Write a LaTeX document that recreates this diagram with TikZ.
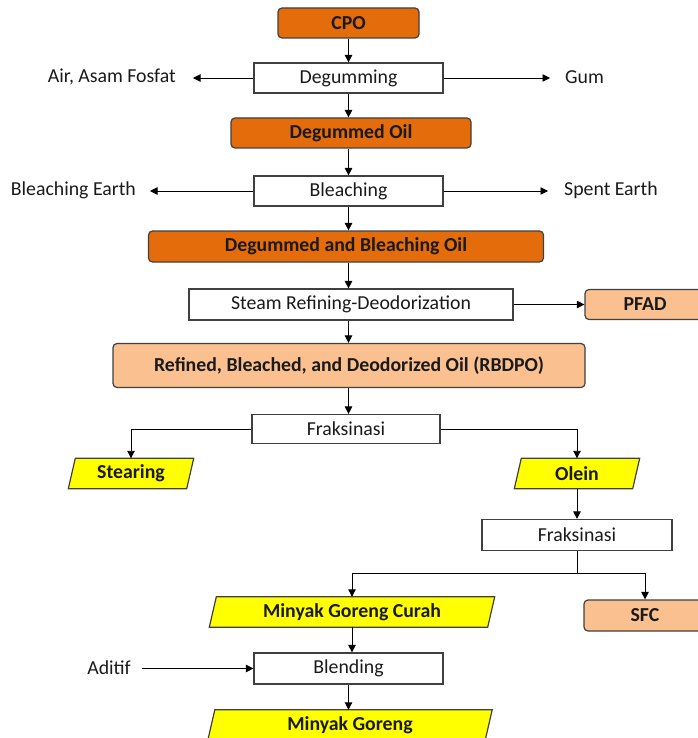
\documentclass[tikz,border=0pt]{standalone}
\usepackage{fontspec}
\setmainfont{Carlito}
\usetikzlibrary{arrows.meta,calc,backgrounds}
\definecolor{dorange}{HTML}{E46C0A}
\definecolor{lorange}{HTML}{FAC090}
\definecolor{yel}{HTML}{FFFF00}
\definecolor{bord}{HTML}{404040}
\definecolor{txt}{HTML}{1A1A1A}
\begin{document}
\begin{tikzpicture}[x=1pt,y=-1pt, font=\fontsize{19.8}{22}\selectfont, text=txt,
 box/.style={draw=bord, line width=1.2pt, minimum height=30pt, inner sep=0pt},
 proc/.style={box, fill=white},
 dark/.style={box, fill=dorange, rounded corners=4pt, font=\fontsize{19.8}{22}\selectfont\bfseries},
 light/.style={box, fill=lorange, rounded corners=4pt, font=\fontsize{19.8}{22}\selectfont\bfseries},
 para/.style={minimum height=30pt, inner sep=0pt, font=\fontsize{19.8}{22}\selectfont\bfseries},
 parashape/.style={draw=bord, line width=1.2pt, fill=yel},
 lbl/.style={inner sep=0pt},
 arr/.style={-{Triangle[length=7.5pt,width=7.5pt]}, line width=0.9pt, draw=black},
 ln/.style={line width=0.9pt, draw=black}
]
\useasboundingbox (0,0) rectangle (697,738);

\node[dark, minimum width=141pt] (cpo) at (348.5,23) {CPO};
\node[proc, minimum width=189pt] (deg) at (348.5,78) {Degumming};
\node[dark, minimum width=240pt] (dgo) at (351,133) {Degummed Oil};
\node[proc, minimum width=189pt] (ble) at (348.5,191) {Bleaching};
\node[dark, minimum width=395pt, minimum height=31pt] (dbo) at (346,246.5) {Degummed and Bleaching Oil};
\node[proc, minimum width=324pt, minimum height=31pt] (srd) at (351,304.5) {Steam Refining-Deodorization};
\node[light, minimum width=120pt] (pfad) at (645,304.5) {PFAD};
\node[light, minimum width=472pt, minimum height=44pt] (rbd) at (349,365.5) {Refined, Bleached, and Deodorized Oil (RBDPO)};
\node[proc, minimum width=188pt, minimum height=29pt] (fr1) at (346,429) {Fraksinasi};
\node[para, minimum width=118pt] (ste) at (131,473.5) {Stearing};
\node[para, minimum width=118pt] (ole) at (577,473.5) {Olein};
\node[proc, minimum width=190pt, minimum height=31pt] (fr2) at (577,535) {Fraksinasi};
\node[para, minimum width=278pt] (mgc) at (352,612) {Minyak Goreng Curah};
\node[light, minimum width=122pt, minimum height=31pt] (sfc) at (645,615.5) {SFC};
\node[proc, minimum width=189pt, minimum height=31pt] (bln) at (348.5,668.5) {Blending};
\node[para, minimum width=277pt] (mg) at (350,725) {Minyak Goreng};

\node[lbl, anchor=east] (air) at (176,77) {Air, Asam Fosfat};
\node[lbl, anchor=west] (gum) at (565,77) {Gum};
\node[lbl, anchor=east] (be) at (136,190) {Bleaching Earth};
\node[lbl, anchor=west] (se) at (564,190) {Spent Earth};
\node[lbl, anchor=east] (adi) at (131,668) {Aditif};

\begin{pgfonlayer}{background}
\foreach \n in {ste,ole,mgc,mg}
  \draw[parashape] ($(\n.south west)+(-3.5,0)$) -- ($(\n.north west)+(3.5,0)$) -- ($(\n.north east)+(3.5,0)$) -- ($(\n.south east)+(-3.5,0)$) -- cycle;
\end{pgfonlayer}

\draw[arr] (cpo.south) -- (cpo.south |- deg.north);
\draw[arr] (deg.south) -- (deg.south |- dgo.north);
\draw[arr] (deg.south |- dgo.south) -- (deg.south |- ble.north);
\draw[arr] (ble.south) -- (ble.south |- dbo.north);
\draw[arr] (ble.south |- dbo.south) -- (ble.south |- srd.north);
\draw[arr] (ble.south |- srd.south) -- (ble.south |- rbd.north);
\draw[arr] (ble.south |- rbd.south) -- (ble.south |- fr1.north);

\draw[arr] (deg.west) -- ([xshift=17pt]deg.west -| air.east);
\draw[arr] (deg.east) -- ([xshift=-15pt]deg.east -| gum.west);
\draw[arr] (ble.west) -- ([xshift=14pt]ble.west -| be.east);
\draw[arr] (ble.east) -- ([xshift=-16pt]ble.east -| se.west);
\draw[arr] (srd.east) -- (pfad.west);

\draw[arr] (fr1.west) -| (ste.north);
\draw[arr] (fr1.east) -| (ole.north);
\draw[arr] (ole.south) -- (fr2.north);
\coordinate (sp) at (577,573);
\draw[ln] (fr2.south) -- (sp);
\draw[arr] (sp) -| (mgc.north);
\draw[arr] (sp) -| (sfc.north);
\draw[arr] (mgc.south) -- (mgc.south |- bln.north);
\draw[arr] ([xshift=11pt]adi.east |- bln.west) -- (bln.west);
\draw[arr] (bln.south) -- (bln.south |- mg.north);
\end{tikzpicture}
\end{document}
